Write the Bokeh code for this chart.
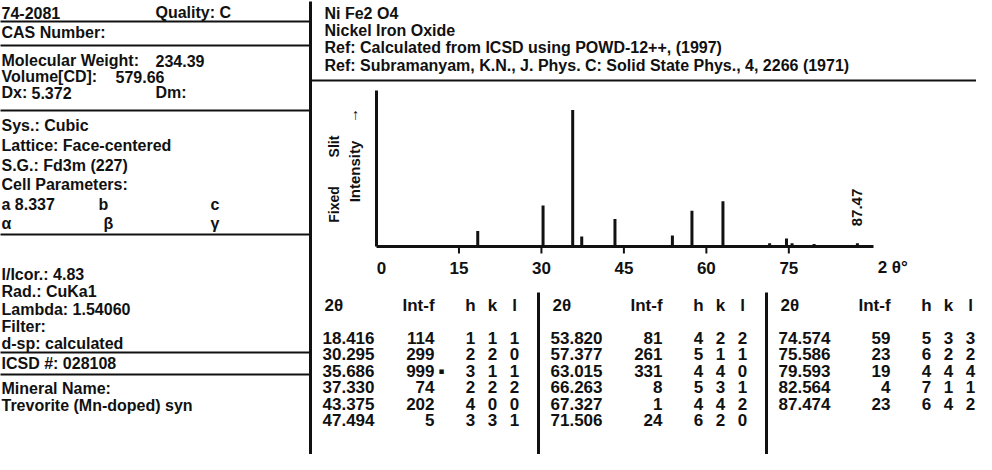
import math
from bokeh.plotting import figure
from bokeh.models import Range1d, ColumnDataSource
from bokeh.core.properties import value
from bokeh.embed import file_html
from bokeh.resources import INLINE

# ---------------- data ----------------
two_theta = [18.416, 30.295, 35.686, 37.330, 43.375, 47.494,
             53.820, 57.377, 63.015, 66.263, 67.327, 71.506,
             74.574, 75.586, 79.593, 82.564, 87.474]
intensity = [114, 299, 999, 74, 202, 5,
             81, 261, 331, 8, 1, 24,
             59, 23, 19, 4, 23]
h_idx = [1, 2, 3, 2, 4, 3, 4, 5, 4, 5, 4, 6, 5, 6, 4, 7, 6]
k_idx = [1, 2, 1, 2, 0, 3, 2, 1, 4, 3, 4, 2, 3, 2, 4, 1, 4]
l_idx = [1, 0, 1, 2, 0, 1, 2, 1, 0, 1, 2, 0, 3, 2, 4, 1, 2]
strongest = 2
x_ticks = [0, 15, 30, 45, 60, 75]
x_tick_labels = ["0", "15", "30", "45", "60", "75"]
last_line = "87.47"
x_max = 90.4
y_max = 1141

left_col1 = ["74-2081", "CAS Number:", "Molecular Weight:", "Volume[CD]:", "Dx:",
             "Sys.: Cubic", "Lattice: Face-centered", "S.G.: Fd3m (227)", "Cell Parameters:",
             "a 8.337", "\u03b1",
             "I/Icor.: 4.83", "Rad.: CuKa1", "Lambda: 1.54060", "Filter:", "d-sp: calculated",
             "ICSD #: 028108", "Mineral Name:", "Trevorite (Mn-doped) syn"]
left_col1_y = [24, 44, 72, 88, 104, 137, 157, 177, 196, 216, 235,
               286, 303, 321, 338, 355, 375, 400, 417]
left_extra = ["Quality: C", "234.39", "579.66", "5.372", "Dm:", "b", "c", "\u03b2", "\u03b3"]
left_extra_x = [167, 167, 127, 43, 167, 110, 222, 115, 222]
left_extra_y = [24, 72, 88, 104, 104, 216, 216, 235, 235]
left_rules_y = [33, 57, 122, 246, 364, 386]

header_lines = ["Ni Fe2 O4", "Nickel Iron Oxide",
                "Ref: Calculated from ICSD using POWD-12++, (1997)",
                "Ref: Subramanyam, K.N., J. Phys. C: Solid State Phys., 4, 2266 (1971)"]
header_y = [25, 42, 59, 77]

# ---------------- figure (card coordinates, y downward) ----------------
SANS = value("Liberation Sans")
p = figure(width=976, height=454, x_range=Range1d(12, 988), y_range=Range1d(466, 12),
           output_backend="svg", toolbar_location=None, min_border=0,
           x_axis_location=None, y_axis_location=None, outline_line_color=None)
p.xgrid.visible = False
p.ygrid.visible = False
p.background_fill_color = "white"

INK = "#111111"

# frame lines
p.segment(x0=[10] * len(left_rules_y), x1=[322] * len(left_rules_y), y0=left_rules_y, y1=left_rules_y,
          line_color=INK, line_width=2)
p.segment(x0=[322], x1=[322], y0=[13], y1=[470], line_color=INK, line_width=3)
p.segment(x0=[322], x1=[992], y0=[92], y1=[92], line_color=INK, line_width=2)
dividers = [322, 550, 778]
p.segment(x0=dividers[1:], x1=dividers[1:], y0=[304, 304], y1=[470, 470], line_color=INK, line_width=3)

# left panel texts
p.text(x=[13] * len(left_col1), y=left_col1_y, text=left_col1, text_font=SANS, text_font_style="bold",
       text_font_size="16px", text_baseline="middle", text_align="left", text_color=INK)
p.text(x=left_extra_x, y=left_extra_y, text=left_extra, text_font=SANS, text_font_style="bold",
       text_font_size="16px", text_baseline="middle", text_align="left", text_color=INK)

# header texts
p.text(x=[336] * 4, y=header_y, text=header_lines, text_font=SANS, text_font_style="bold",
       text_font_size="16px", text_baseline="middle", text_align="left", text_color=INK)

# ---------------- chart through sub-coordinates ----------------
BASE = 258
chart = p.subplot(x_source=Range1d(0, x_max), y_source=Range1d(0, y_max),
                  x_target=Range1d(388, 885), y_target=Range1d(BASE, 102))
axes = p.subplot(x_source=Range1d(0, x_max), y_source=Range1d(0, 1),
                 x_target=Range1d(388, 885), y_target=Range1d(0, 1))

src = ColumnDataSource(dict(tt=two_theta, inten=intensity))
chart.segment(x0="tt", y0=0, x1="tt", y1="inten", source=src, line_width=3,
              line_color=INK, line_cap="butt")
# y axis line
chart.segment(x0=[0], y0=[0], x1=[0], y1=[y_max], line_width=3, line_color=INK)
# x axis line, ticks, labels
axes.segment(x0=[0], y0=[BASE], x1=[x_max], y1=[BASE], line_width=3, line_color=INK)
axes.segment(x0=x_ticks[1:], y0=[BASE] * 5, x1=x_ticks[1:], y1=[BASE + 7] * 5, line_width=2, line_color=INK)
axes.text(x=x_ticks, y=[BASE + 21] * len(x_ticks), text=x_tick_labels, x_offset=[5, 0, 0, 0, 0, 0],
          text_font=SANS, text_font_style="bold", text_font_size="17px",
          text_align="center", text_baseline="middle", text_color=INK)
axes.text(x=[x_max + 3.5], y=[BASE + 21], text=["2 \u03b8\u00b0"], text_font=SANS, text_font_style="bold",
          text_font_size="17px", text_align="center", text_baseline="middle", text_color=INK)
axes.text(x=[two_theta[-1]], y=[BASE - 39], text=[last_line], angle=math.pi / 2, text_font=SANS,
          text_font_style="bold", text_font_size="15px", text_align="center",
          text_baseline="middle", text_color=INK)

# y axis title
p.text(x=[345, 345], y=[216, 158], text=["Fixed", "Slit"],
       angle=math.pi / 2, text_font=SANS, text_font_style="bold", text_font_size="14px",
       text_align="center", text_baseline="middle", text_color=INK)
p.text(x=[366, 364], y=[183, 127], text=["Intensity", "\u2192"],
       angle=math.pi / 2, text_font=SANS, text_font_style="bold", text_font_size="15px",
       text_align="center", text_baseline="middle", text_color=INK)

# ---------------- peak table ----------------
hdr_y = 317
row_y0 = 349
row_dy = 16.5
tx, ty, tt = [], [], []
ix, iy, itx = [], [], []
cx, cy, ct = [], [], []
HKL_OFF = (160, 182, 204)
for t, D in enumerate(dividers):
    tx.append(D + 14); ty.append(hdr_y); tt.append("2\u03b8")
    tx.append(D + 92); ty.append(hdr_y); tt.append("Int-f")
    for off, lab in zip(HKL_OFF, ("h", "k", "l")):
        cx.append(D + off); cy.append(hdr_y); ct.append(lab)
for i in range(len(two_theta)):
    t, r = divmod(i, 6)
    D = dividers[t]
    y = row_y0 + r * row_dy
    tx.append(D + 12); ty.append(y); tt.append("%.3f" % two_theta[i])
    ix.append(D + 124); iy.append(y); itx.append(str(intensity[i]))
    for off, v in zip(HKL_OFF, (h_idx[i], k_idx[i], l_idx[i])):
        cx.append(D + off); cy.append(y); ct.append(str(v))

TFS = "17px"
p.text(x=tx, y=ty, text=tt, text_font=SANS, text_font_style="bold", text_font_size=TFS,
       text_align="left", text_baseline="middle", text_color=INK)
p.text(x=ix, y=iy, text=itx, text_font=SANS, text_font_style="bold", text_font_size=TFS,
       text_align="right", text_baseline="middle", text_color=INK)
p.text(x=cx, y=cy, text=ct, text_font=SANS, text_font_style="bold", text_font_size=TFS,
       text_align="center", text_baseline="middle", text_color=INK)
ts, rs = divmod(strongest, 6)
p.text(x=[dividers[ts] + 131], y=[row_y0 + rs * row_dy], text=["\u25aa"], text_font=value("DejaVu Sans"),
       text_font_size="9px", text_align="center", text_baseline="middle", text_color=INK)

open("out.html", "w").write(file_html(p, INLINE))
